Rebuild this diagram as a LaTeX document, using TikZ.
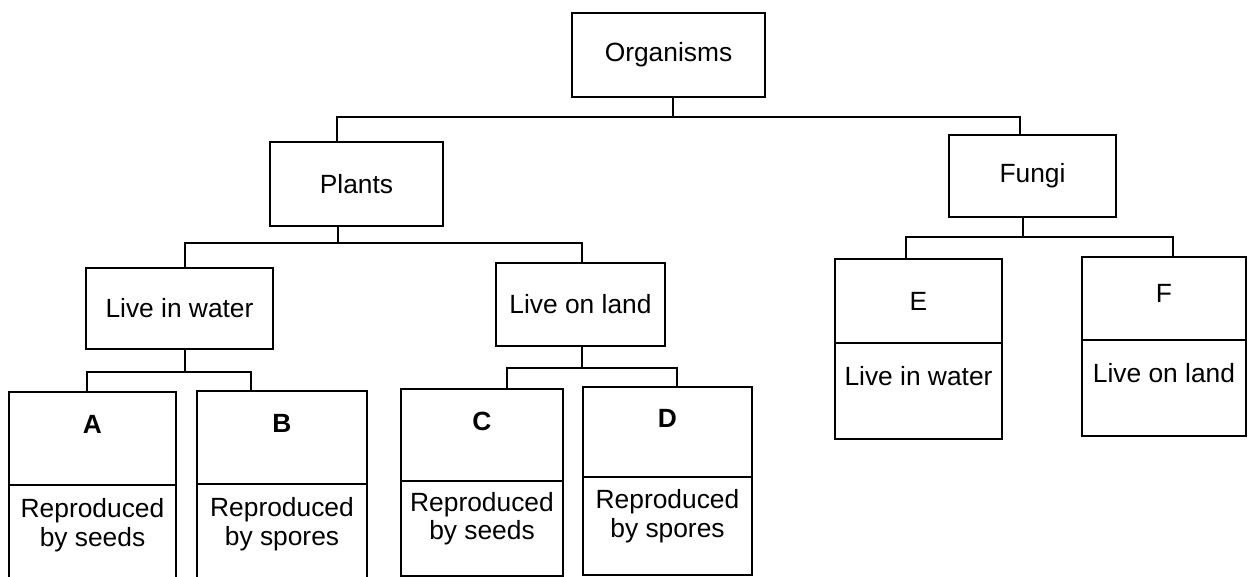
\documentclass[tikz,border=0pt]{standalone}
\usepackage{fontspec}
\setmainfont{Liberation Sans}
\usetikzlibrary{positioning}

\tikzset{
    box/.style={draw, line width=1pt, minimum width=3.4cm, minimum height=1.68cm,
        font=\fontsize{15}{16}\selectfont, align=center, inner sep=0pt},
    leaftop/.style={box, minimum height=1.86cm, font=\fontsize{15}{16}\selectfont\bfseries, text depth=0.56cm},
    leafbot/.style={box, minimum height=1.9cm, text depth=0.4cm},
    link/.style={line width=1pt}
}

\begin{document}
\begin{tikzpicture}[x=0.02cm, y=-0.02cm]
            \useasboundingbox (0,0) rectangle (1248,577);

            \node[box, minimum width=3.86cm] (org) at (668.5,55) {Organisms};
            \node[box, minimum width=3.46cm] (plants) at (356.5,184) {Plants};
            \node[box, minimum width=3.34cm, minimum height=1.64cm] (fungi) at (1032.5,176) {Fungi};
            \node[box, minimum width=3.74cm, minimum height=1.62cm] (water) at (179.5,308.5) {Live in water};
            \node[box, minimum width=3.38cm, minimum height=1.66cm] (land) at (580.5,304.5) {Live on land};

            \node[leaftop, minimum width=3.34cm] (Atop) at (92.5,438.5) {A};
            \node[leafbot, minimum width=3.34cm, below=-1pt of Atop] (Abot) {Reproduced\\by seeds};
            \node[leaftop, minimum width=3.4cm] (Btop) at (282,437.5) {B};
            \node[leafbot, minimum width=3.4cm, below=-1pt of Btop] (Bbot) {Reproduced\\by spores};
            \node[leaftop, minimum width=3.24cm, minimum height=1.84cm] (Ctop) at (482,435) {C};
            \node[leafbot, minimum width=3.24cm, below=-1pt of Ctop, text depth=0.5cm] (Cbot) {Reproduced\\by seeds};
            \node[leaftop, minimum width=3.38cm, minimum height=1.8cm] (Dtop) at (667.5,432) {D};
            \node[leafbot, minimum width=3.38cm, minimum height=1.96cm, below=-1pt of Dtop, text depth=0.5cm] (Dbot) {Reproduced\\by spores};

            \node[box, minimum width=3.34cm, minimum height=1.68cm] (Etop) at (918.5,301) {E};
            \node[leafbot, minimum width=3.34cm, minimum height=1.92cm, below=-1pt of Etop, text depth=0.6cm] (Ebot) {Live in water};
            \node[box, minimum width=3.28cm, minimum height=1.66cm, text depth=0.2cm] (Ftop) at (1164,298.5) {F};
            \node[leafbot, minimum width=3.28cm, minimum height=1.92cm, below=-1pt of Ftop, text depth=0.6cm] (Fbot) {Live on land};

            % bus lines
            \coordinate (jorg) at (673,117);
            \coordinate (jplants) at (338,243);
            \coordinate (jwater) at (185,372);
            \coordinate (jland) at (582,368);
            \coordinate (jfungi) at (1023,237);

            \draw[link] (org.south -| jorg) -- (jorg) -| (plants.north -| 337,0);
            \draw[link] (jorg) -| (fungi.north -| 1020,0);
            \draw[link] (plants.south -| jplants) -- (jplants) -| (water.north -| 185,0);
            \draw[link] (jplants) -| (land.north -| 582,0);
            \draw[link] (water.south -| jwater) -- (jwater) -| (Atop.north -| 87,0);
            \draw[link] (jwater) -| (Btop.north -| 251,0);
            \draw[link] (land.south -| jland) -- (jland) -| (Ctop.north -| 507,0);
            \draw[link] (jland) -| (Dtop.north -| 677,0);
            \draw[link] (fungi.south -| jfungi) -- (jfungi) -| (Etop.north -| 906,0);
            \draw[link] (jfungi) -| (Ftop.north -| 1173,0);
        \end{tikzpicture}
\end{document}
